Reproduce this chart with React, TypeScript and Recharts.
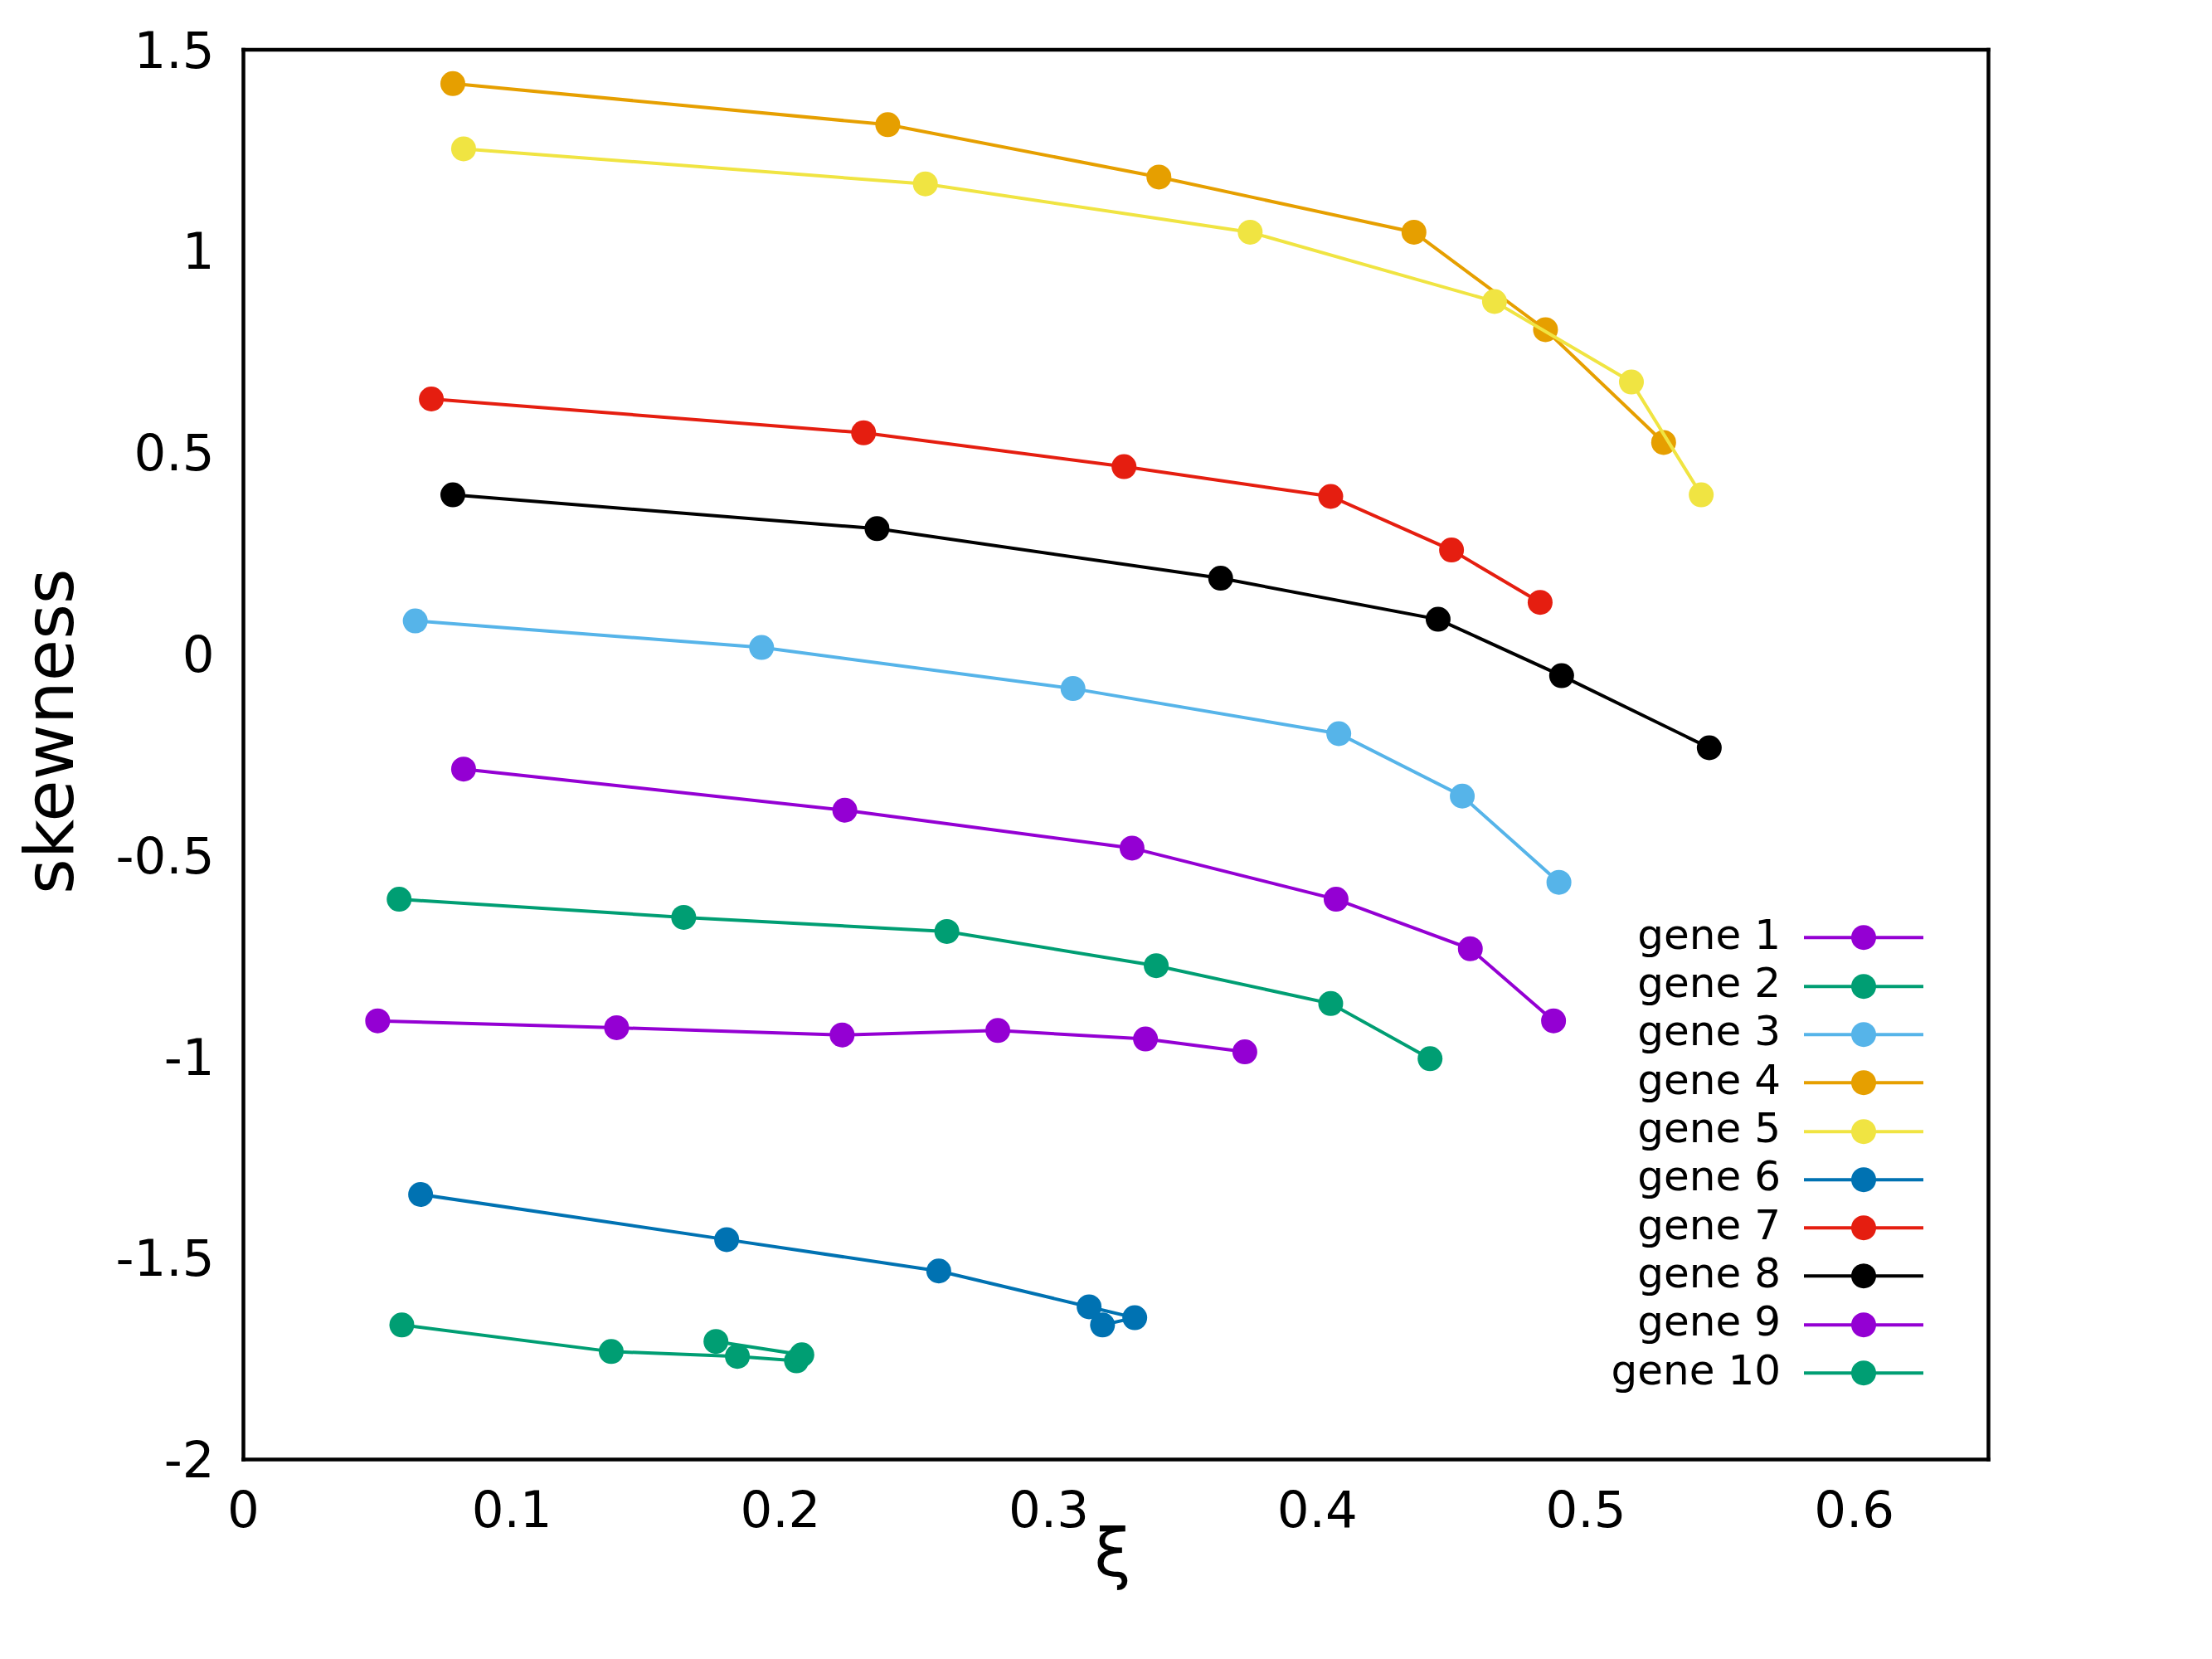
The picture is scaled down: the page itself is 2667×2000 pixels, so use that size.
import React from 'react';
import { ScatterChart, Scatter, XAxis, YAxis, Legend } from 'recharts';

const FONT = '"DejaVu Sans", sans-serif';

const geneNames = ['gene 1', 'gene 2', 'gene 3', 'gene 4', 'gene 5', 'gene 6', 'gene 7', 'gene 8', 'gene 9', 'gene 10'];
const geneColors = ['#9400d3', '#009e73', '#56b4e9', '#e69f00', '#f0e442', '#0072b2', '#e51e10', '#000000', '#9400d3', '#009e73'];

// xi (x) and skewness (y) for each gene
const xiGene1 = [0.082, 0.224, 0.331, 0.407, 0.457, 0.488];
const skewGene1 = [-0.286, -0.388, -0.482, -0.609, -0.732, -0.911];
const xiGene2 = [0.058, 0.164, 0.262, 0.34, 0.405, 0.442];
const skewGene2 = [-0.609, -0.654, -0.689, -0.774, -0.868, -1.005];
const xiGene3 = [0.064, 0.193, 0.309, 0.408, 0.454, 0.49];
const skewGene3 = [0.082, 0.016, -0.086, -0.198, -0.353, -0.567];
const xiGene4 = [0.078, 0.24, 0.341, 0.436, 0.485, 0.529];
const skewGene4 = [1.416, 1.314, 1.184, 1.047, 0.805, 0.525];
const xiGene5 = [0.082, 0.254, 0.375, 0.466, 0.517, 0.543];
const skewGene5 = [1.254, 1.167, 1.047, 0.875, 0.675, 0.395];
const xiGene6 = [0.066, 0.18, 0.259, 0.315, 0.332, 0.32];
const skewGene6 = [-1.342, -1.454, -1.532, -1.621, -1.648, -1.666];
const xiGene7 = [0.07, 0.231, 0.328, 0.405, 0.45, 0.483];
const skewGene7 = [0.633, 0.549, 0.465, 0.391, 0.258, 0.128];
const xiGene8 = [0.078, 0.236, 0.364, 0.445, 0.491, 0.546];
const skewGene8 = [0.395, 0.311, 0.188, 0.086, -0.054, -0.233];
const xiGene9 = [0.05, 0.139, 0.223, 0.281, 0.336, 0.373];
const skewGene9 = [-0.911, -0.928, -0.946, -0.935, -0.956, -0.988];
const xiGene10 = [0.059, 0.137, 0.184, 0.206, 0.208, 0.176];
const skewGene10 = [-1.666, -1.732, -1.744, -1.755, -1.74, -1.707];

const xTicks = [0, 0.1, 0.2, 0.3, 0.4, 0.5, 0.6];
const yTicks = [-2, -1.5, -1, -0.5, 0, 0.5, 1, 1.5];

const xiByGene = [xiGene1, xiGene2, xiGene3, xiGene4, xiGene5, xiGene6, xiGene7, xiGene8, xiGene9, xiGene10];
const skewByGene = [skewGene1, skewGene2, skewGene3, skewGene4, skewGene5, skewGene6, skewGene7, skewGene8, skewGene9, skewGene10];

const series = geneNames.map((name, g) => ({
  name,
  color: geneColors[g],
  data: xiByGene[g].map((xi, i) => ({ xi, skew: skewByGene[g][i] })),
}));

const frameLine = { stroke: '#000', strokeWidth: 4.5, strokeLinecap: 'square' as const };
const frameTick = { stroke: '#000', strokeWidth: 4.5 };
const tickText = { fill: '#000', fontSize: 61, fontFamily: FONT };

const dot = (color: string) => (props: any) => (
  <circle cx={props.cx} cy={props.cy} r={15} fill={color} />
);

const ROW = 58.3;

const GeneLegend = () => (
  <div style={{ fontFamily: FONT, fontSize: 50, color: '#000' }}>
    {series.map((s) => (
      <div key={s.name} style={{ display: 'flex', alignItems: 'center', height: ROW }}>
        <span
          style={{
            width: 247,
            textAlign: 'right',
            lineHeight: `${ROW}px`,
            position: 'relative',
            top: -3.5,
            whiteSpace: 'nowrap',
          }}
        >
          {s.name}
        </span>
        <svg width={172} height={ROW} style={{ display: 'block' }}>
          <line x1={28} x2={172} y1={ROW / 2} y2={ROW / 2} stroke={s.color} strokeWidth={4} />
          <circle cx={100} cy={ROW / 2} r={15} fill={s.color} />
        </svg>
      </div>
    ))}
  </div>
);

export default function App() {
  return (
    <div style={{ position: 'absolute', left: 0, top: 0, background: '#fff' }}>
      <ScatterChart
        width={2667}
        height={2000}
        margin={{ top: 60, right: 269.5, bottom: 0, left: 0 }}
      >
        <XAxis
          xAxisId="x"
          type="number"
          dataKey="xi"
          domain={[0, 0.65]}
          allowDataOverflow
          ticks={xTicks}
          interval={0}
          height={240.5}
          axisLine={false}
          tickLine={false}
          tickSize={0}
          tickMargin={38.5}
          tick={tickText}
          label={({ viewBox }: any) => (
            <text
              x={viewBox.x + viewBox.width / 2 - 4}
              y={viewBox.y + 140}
              textAnchor="middle"
              fontSize={80}
              fontFamily={FONT}
              fill="#000"
            >
              ξ
            </text>
          )}
        />
        <XAxis
          xAxisId="xb"
          type="number"
          orientation="bottom"
          mirror
          domain={[0, 0.65]}
          allowDataOverflow
          ticks={xTicks}
          interval={0}
          height={30}
          tick={false}
          tickSize={25}
          tickLine={frameTick}
          axisLine={frameLine}
        />
        <XAxis
          xAxisId="xt"
          type="number"
          orientation="top"
          mirror
          domain={[0, 0.65]}
          allowDataOverflow
          ticks={xTicks}
          interval={0}
          height={30}
          tick={false}
          tickSize={25}
          tickLine={frameTick}
          axisLine={frameLine}
        />
        <YAxis
          yAxisId="y"
          type="number"
          dataKey="skew"
          domain={[-2, 1.5]}
          allowDataOverflow
          ticks={yTicks}
          interval={0}
          width={293.5}
          axisLine={false}
          tickLine={false}
          tickSize={0}
          tickMargin={35}
          tick={tickText}
          label={({ viewBox }: any) => {
            const lx = viewBox.x + 88;
            const ly = viewBox.y + viewBox.height / 2 - 28;
            return (
              <text
                x={lx}
                y={ly}
                transform={`rotate(-90, ${lx}, ${ly})`}
                textAnchor="middle"
                fontSize={82}
                fontFamily={FONT}
                fill="#000"
              >
                skewness
              </text>
            );
          }}
        />
        <YAxis
          yAxisId="yl"
          type="number"
          orientation="left"
          mirror
          domain={[-2, 1.5]}
          allowDataOverflow
          ticks={yTicks}
          interval={0}
          width={30}
          tick={false}
          tickSize={25}
          tickLine={frameTick}
          axisLine={frameLine}
        />
        <YAxis
          yAxisId="yr"
          type="number"
          orientation="right"
          mirror
          domain={[-2, 1.5]}
          allowDataOverflow
          ticks={yTicks}
          interval={0}
          width={30}
          tick={false}
          tickSize={25}
          tickLine={frameTick}
          axisLine={frameLine}
        />
        {series.map((s) => (
          <Scatter
            key={s.name}
            name={s.name}
            xAxisId="x"
            yAxisId="y"
            data={s.data}
            fill={s.color}
            line={{ stroke: s.color, strokeWidth: 4 }}
            shape={dot(s.color)}
            isAnimationActive={false}
          />
        ))}
        <Legend
          layout="vertical"
          align="center"
          verticalAlign="middle"
          content={() => <GeneLegend />}
          wrapperStyle={{ left: 1900, top: 1101.4, width: 419, height: ROW * 10 }}
        />
      </ScatterChart>
    </div>
  );
}
